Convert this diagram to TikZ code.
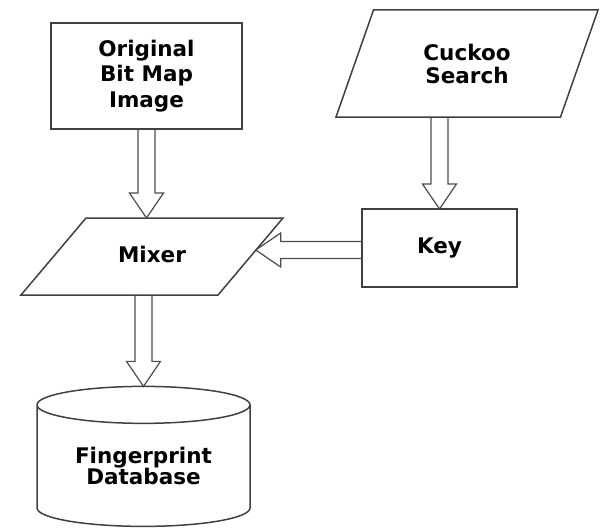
\documentclass[tikz,border=0pt]{standalone}
\usepackage{fontspec}
\setmainfont{DejaVu Sans}
\usetikzlibrary{calc,positioning,shapes.geometric}

\tikzset{
  block/.style={draw=black!75, line width=1.5pt, align=center,
    font=\bfseries\fontsize{21.5}{25.5}\selectfont, inner sep=0pt, outer sep=0pt},
  boxnode/.style={block, rectangle},
  % parallelogram: text box sets the body, the angle sets the slant
  slanted/.style={block, trapezium, trapezium left angle=#1,
    trapezium right angle=180-#1, minimum width=0pt, minimum height=0pt},
  store/.style={block, cylinder, shape border rotate=90, aspect=0.27},
  arrowline/.style={draw=black!70, line width=1.2pt, line join=miter},
}

% hollow block arrow from #1 to #2
\newcommand{\hollowarrow}[2]{%
  \coordinate (hd) at ($(#2)!25pt!(#1)$);
  \draw[arrowline] ($(#1)!8.5pt!90:(#2)$) -- ($(hd)!8.5pt!90:(#2)$)
    -- ($(hd)!17pt!90:(#2)$) -- (#2) -- ($(hd)!17pt!-90:(#2)$)
    -- ($(hd)!8.5pt!-90:(#2)$) -- ($(#1)!8.5pt!-90:(#2)$);}

\begin{document}
\begin{tikzpicture}[x=1pt,y=-1pt]
  \useasboundingbox (0,0) rectangle (601,527);

  \node[boxnode, minimum width=191, minimum height=106] (orig) at (146.5,76)
    {Original\\Bit Map\\Image};
  \node[slanted=70.68, text width=187, text height=50, text depth=57,
    font=\bfseries\fontsize{21.5}{23.5}\selectfont] (cuckoo)
    at (467,63.5) {Cuckoo\\Search};
  \node[slanted=49.83, text width=132, text height=44, text depth=33] (mixer)
    at (152,256.5) {Mixer};
  \node[boxnode, minimum width=155, minimum height=78, text height=10, text depth=0]
    (key) at (439.5,248) {Key};
  \node[store, minimum width=213, minimum height=140,
    font=\bfseries\fontsize{21.5}{21}\selectfont] (db) at (143.5,466)
    {Fingerprint\\Database};

  % connectors
  \coordinate (a1) at (orig.south);
  \coordinate (b1) at (orig.south |- mixer.north);
  \hollowarrow{a1}{b1}
  \coordinate (a2) at (key.north |- cuckoo.south);
  \hollowarrow{a2}{key.north}
  \coordinate (a3) at ([yshift=-2pt]key.west);
  \coordinate (edge) at ($(mixer.top right corner)!0.42!(mixer.bottom right corner)$);
  \coordinate (b3) at (edge |- a3);
  \hollowarrow{a3}{b3}
  \coordinate (a4) at (db.north |- mixer.south);
  \hollowarrow{a4}{db.north}
\end{tikzpicture}
\end{document}
